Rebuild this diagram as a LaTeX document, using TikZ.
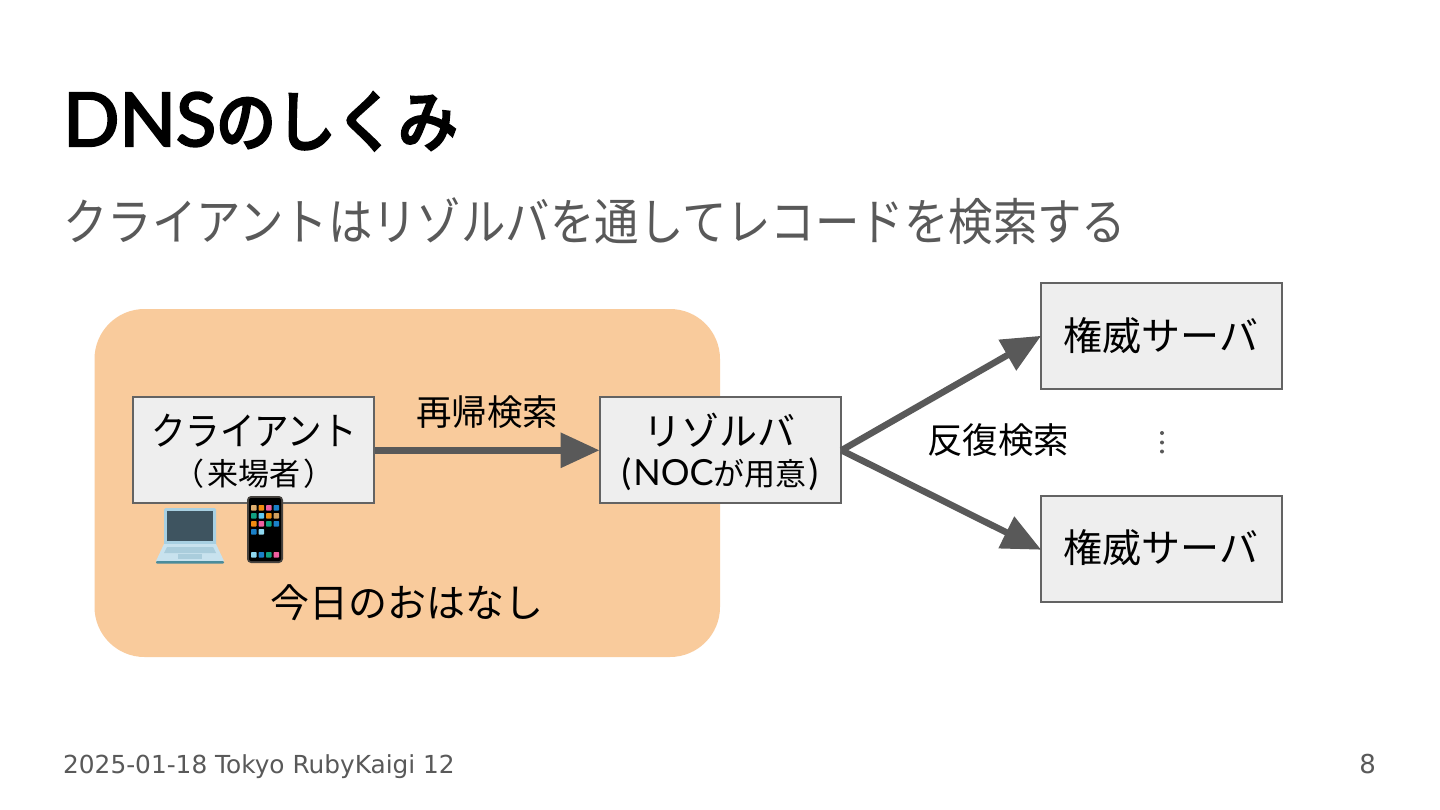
\documentclass[tikz,border=0pt]{standalone}
\usepackage{fontspec}
\setmainfont{Lato}
\newfontfamily\titlelat{Lato}[FakeBold=3]
\newfontfamily\cjk{Noto Sans CJK JP}
\newfontfamily\cjkn{Noto Sans CJK JP}[FakeStretch=0.885]
\newfontfamily\cjkt{Noto Sans CJK JP Medium}[FakeStretch=0.9,FakeBold=3]
\newfontfamily\foot{DejaVu Sans}
\usetikzlibrary{arrows.meta}
\definecolor{orangebg}{HTML}{F9CB9C}
\definecolor{boxfill}{HTML}{EEEEEE}
\definecolor{boxline}{HTML}{636363}
\definecolor{connline}{HTML}{595959}
\definecolor{subcol}{HTML}{595959}
\definecolor{lapa}{RGB}{168,208,226}
\definecolor{lapb}{RGB}{62,84,96}
\definecolor{lapc}{RGB}{200,226,238}
\definecolor{lapd}{RGB}{170,205,220}
\definecolor{lape}{RGB}{75,140,155}
\definecolor{phonea}{RGB}{70,66,62}
\newcommand{\fs}[1]{\fontsize{#1}{#1}\selectfont}
\tikzset{
  box/.style={draw=boxline,fill=boxfill,line width=2pt,minimum width=241pt,minimum height=106pt,inner sep=0pt,anchor=north west,align=center},
  conn/.style={draw=connline,line width=6.5pt,-{Triangle[length=39pt,width=34pt]},shorten >=-1pt},
  lbl/.style={inner sep=0pt,anchor=center},
}
\begin{document}
\begin{tikzpicture}[x=1pt,y=-1pt]
\useasboundingbox (0,0) rectangle (1440,810);
\fill[white] (0,0) rectangle (1440,810);
\fill[orangebg,rounded corners=50pt] (94.5,309) rectangle (720,657);
\node[lbl,anchor=base west] (title) at (63,146) {\titlelat\fs{74}DNS{\cjkt\fs{66.5}のしくみ}};
\node[lbl,anchor=base west,text=subcol] (sub) at (63,241) {\cjkn\fs{50.2}クライアントはリゾルバを通してレコードを検索する};
\node[box] (client) at (132.3,396.3) {};
\node[lbl] (c1) at (254,431) {\cjkn\fs{39}クライアント};
\node[lbl] (c2) at (254,474) {\cjk\fs{31}（\hspace{3pt}来場者\hspace{3pt}）};
\node[box] (res) at (598.5,396.3) {};
\node[lbl] (r1) at (719,430) {\cjk\fs{38}リゾルバ};
\node[lbl] (r2) at (720,474) {\fs{36}(\hspace{2pt}NOC{\cjk\fs{31}が用意}\hspace{2pt})};
\node[box] (a1) at (1040.3,282.3) {};
\node[lbl] (a1t) at (1161,336) {\cjk\fs{39}権威サーバ};
\node[box] (a2) at (1040.3,495.3) {};
\node[lbl] (a2t) at (1161,548) {\cjk\fs{39}権威サーバ};
\node[lbl] (rec) at (487,412) {\cjk\fs{35.5}再帰検索};
\node[lbl] (ite) at (998,440) {\cjk\fs{35.5}反復検索};
\node[lbl] (today) at (407,603) {\cjk\fs{39}今日のおはなし};
\draw[conn] (client.east) -- (res.west);
\draw[conn] (res.east) -- (a1.west);
\draw[conn] (res.east) -- (a2.west);
\fill[connline] (1162,433) circle (2pt) (1162,442.5) circle (2pt) (1162,451.5) circle (2pt);
\fill[rounded corners=1.5pt,lapa] (164,508) rectangle (216,547);
\fill[lapb] (167,511) rectangle (213,541);
\fill[lapc] (164,544) -- (216,544) -- (224,561) -- (156,561) -- cycle;
\fill[lapd] (167,547) -- (213,547) -- (216,553) -- (164,553) -- cycle;
\fill[lapd] (178,554) rectangle (202,558.5);
\fill[lape,rounded corners=1pt] (156,561) rectangle (224,563.5);
\fill[rounded corners=4pt,phonea] (247,496) rectangle (283,563);
\fill[rounded corners=2pt,black] (249,498) rectangle (281,561);
\foreach \c/\x/\y in {E0B070/251/505,F08C10/258.5/505,EE5FA0/266/505,1A80C8/273.5/505,
  10A080/251/513,60C8F0/258.5/513,F08C10/266/513,D0A060/273.5/513,
  F08C10/251/521,EE5FA0/258.5/521,10A080/266/521,1A80C8/273.5/521,
  1A80C8/251/529,90D8F0/258.5/529,
  90D8F0/251/552,1A80C8/258.5/552,10A080/266/552,EE5FA0/273.5/552}{
  \definecolor{tmpc}{HTML}{\c}
  \fill[tmpc,rounded corners=0.8pt] (\x,\y) rectangle ++(5.6,5.6);
}
\node[lbl,anchor=base west,text=subcol] (foot) at (63,773) {\foot\fs{24.8}2025-01-18 Tokyo RubyKaigi 12};
\node[lbl,anchor=base east,text=subcol] (page) at (1376,773) {\foot\fs{26}8};
\end{tikzpicture}
\end{document}
